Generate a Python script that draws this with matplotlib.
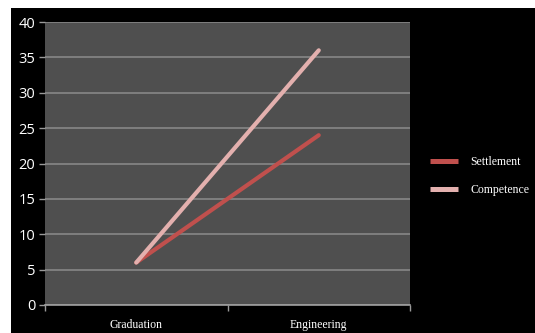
import matplotlib
matplotlib.use("Agg")
import matplotlib.pyplot as plt
from matplotlib.patches import Rectangle

categories = ["Graduation", "Engineering"]
settlement = [6, 24]
competence = [6, 36]
y_ticks = [0, 5, 10, 15, 20, 25, 30, 35, 40]

W, H = 535, 333
fig = plt.figure(figsize=(W / 100, H / 100), dpi=100, facecolor="white")

# black slide background with a thin white margin on the top and left
fig.add_artist(Rectangle((11 / W, 0), 1 - 11 / W, (H - 8) / H,
                         transform=fig.transFigure, facecolor="black",
                         edgecolor="none", zorder=-10))

ax = fig.add_axes([45 / W, 28 / H, 365 / W, 283 / H])
ax.set_facecolor("#4f4f4f")

x = list(range(len(categories)))
ax.plot(x, settlement, color="#c0504d", lw=3.0, solid_capstyle="round",
        label="Settlement", zorder=3)
ax.plot(x, competence, color="#e3b0ae", lw=3.0, solid_capstyle="round",
        label="Competence", zorder=4)

ax.set_xlim(-0.5, len(categories) - 0.5)
ax.set_ylim(0, 40)
ax.set_yticks(y_ticks)
ax.set_yticklabels([str(v) for v in y_ticks], fontfamily="Open Sans",
                   fontsize=10.5, color="white")
ax.tick_params(axis="y", length=4, width=1, color="#9a9a9a", pad=3)
ax.yaxis.grid(True, color="#8c8c8c", lw=1.1)
ax.set_axisbelow(True)

ax.set_xticks(x)
ax.set_xticklabels(categories, fontfamily="Liberation Serif", fontsize=8.5,
                   color="white")
ax.tick_params(axis="x", which="major", length=0, pad=10)
ax.set_xticks([i - 0.5 for i in range(len(categories) + 1)], minor=True)
ax.tick_params(axis="x", which="minor", length=4, width=1, color="#9a9a9a")

for side in ["top", "right", "left"]:
    ax.spines[side].set_visible(False)
ax.spines["bottom"].set_color("#a0a0a0")
ax.spines["bottom"].set_linewidth(1.2)

leg = ax.legend(loc="center left", bbox_to_anchor=(430 / W, 1 - 176 / H),
                bbox_transform=fig.transFigure, frameon=False,
                prop={"family": "Liberation Serif", "size": 8.5},
                handlelength=2.4, handletextpad=1.0, labelspacing=1.4,
                borderaxespad=0, borderpad=0)
for t in leg.get_texts():
    t.set_color("white")
for h in leg.get_lines():
    h.set_linewidth(3.6)
    h.set_solid_capstyle("butt")

fig.savefig("out.png", dpi=100, facecolor="white")
